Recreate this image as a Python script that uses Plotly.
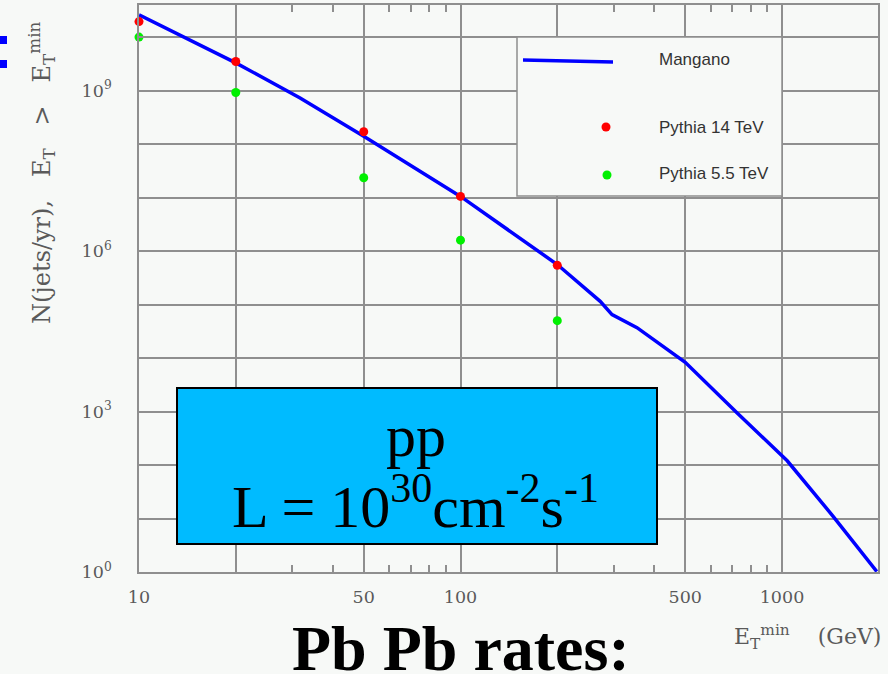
import plotly.graph_objects as go

# ---------------- data ----------------
et_pythia = [10, 20, 50, 100, 200]
pythia_14tev = [1.95e10, 3.5e9, 1.7e8, 1.05e7, 5.4e5]
pythia_5p5tev = [1.0e10, 9.2e8, 2.35e7, 1.6e6, 5.0e4]

et_mangano = [10, 20, 31.7, 50, 100, 200, 272, 296, 354, 500, 724, 1038, 1442, 1972]
mangano = [2.6e10, 3.3e9, 7.3e8, 1.4e8, 1.05e7, 5.6e5, 1.15e5, 6.5e4, 3.7e4, 8.3e3, 9.5e2, 1.2e2, 11, 1.02]

x_tickvals = [10, 20, 50, 100, 200, 500, 1000]
x_ticktext = ["10", "", "50", "100", "", "500", "1000"]
x_minor = [30, 40, 60, 70, 80, 90, 300, 400, 600, 700, 800, 900]
y_tickvals = [10 ** k for k in range(0, 11)]
y_ticktext = ["10<sup>0</sup>", "", "", "10<sup>3</sup>", "", "", "10<sup>6</sup>", "", "",
              "10<sup>9</sup>", ""]

legend_names = ["Mangano", "Pythia 14 TeV", "Pythia 5.5 TeV"]

# ---------------- layout helpers ----------------
W, H = 888, 674
L, R, T, B = 139, 10, 5, 102
PW, PH = W - L - R, H - T - B


def px(x):
    return (x - L) / PW


def py(y):
    return (H - B - y) / PH


BG = "#f7f9f7"
GRID = "#8f8f8f"
TXT = "#5a5a5a"
SERIF = "DejaVu Serif"

fig = go.Figure()
fig.add_trace(go.Scatter(x=et_mangano, y=mangano, mode="lines",
                         line=dict(color="#0000ff", width=3.5), name=legend_names[0],
                         showlegend=False))
fig.add_trace(go.Scatter(x=et_pythia, y=pythia_14tev, mode="markers",
                         marker=dict(color="#ff0000", size=9), name=legend_names[1],
                         showlegend=False, cliponaxis=False))
fig.add_trace(go.Scatter(x=et_pythia, y=pythia_5p5tev, mode="markers",
                         marker=dict(color="#00f000", size=9), name=legend_names[2],
                         showlegend=False, cliponaxis=False))

axis_common = dict(showline=True, linecolor=GRID, linewidth=1.6, mirror="ticks",
                   showgrid=True, gridcolor=GRID, gridwidth=1.6, zeroline=False,
                   ticks="inside", tickcolor=GRID, tickwidth=1.5, ticklen=5,
                   tickfont=dict(family=SERIF, size=17.5, color=TXT))

fig.update_xaxes(type="log", range=[1, 3.2986], tickmode="array",
                 tickvals=x_tickvals, ticktext=x_ticktext, ticklabelstandoff=8,
                 minor=dict(tickvals=x_minor, ticks="inside", ticklen=7, tickwidth=1.5,
                            tickcolor=GRID, showgrid=False),
                 **axis_common)
fig.update_yaxes(type="log", range=[0, 10.6], tickmode="array",
                 tickvals=y_tickvals, ticktext=y_ticktext, ticklabelstandoff=22,
                 **axis_common)

shapes = []
annotations = []

# legend box
shapes.append(dict(type="rect", xref="paper", yref="paper", x0=px(517), x1=px(782),
                   y0=py(196), y1=py(37), fillcolor=BG, line=dict(color=GRID, width=1.5),
                   layer="above"))
shapes.append(dict(type="line", xref="paper", yref="paper", x0=px(523), x1=px(613),
                   y0=py(60), y1=py(62), line=dict(color="#0000ff", width=3.5),
                   layer="above"))
for cx, cy, col in [(606, 127, "#ff0000"), (607, 175, "#00f000")]:
    shapes.append(dict(type="circle", xref="paper", yref="paper",
                       x0=px(cx - 4.5), x1=px(cx + 4.5), y0=py(cy + 4.5), y1=py(cy - 4.5),
                       fillcolor=col, line=dict(width=0), layer="above"))
for name, cy in zip(legend_names, [59, 127, 173]):
    annotations.append(dict(text=name, xref="paper", yref="paper", x=px(657), y=py(cy),
                            xanchor="left", yanchor="middle", showarrow=False,
                            font=dict(family="Liberation Sans", size=17, color="#333333")))

# pp luminosity box
shapes.append(dict(type="rect", xref="paper", yref="paper", x0=px(177), x1=px(657),
                   y0=py(544), y1=py(388), fillcolor="#00bbff",
                   line=dict(color="#000000", width=2), layer="above"))
annotations.append(dict(text="pp", xref="paper", yref="paper", x=px(416), y=py(436),
                        xanchor="center", yanchor="middle", showarrow=False,
                        font=dict(family="Liberation Serif", size=60, color="#000000")))
annotations.append(dict(text="L = 10<sup>30</sup>cm<sup>-2</sup>s<sup>-1</sup>",
                        xref="paper", yref="paper", x=px(415), y=py(502),
                        xanchor="center", yanchor="middle", showarrow=False,
                        font=dict(family="Liberation Serif", size=60, color="#000000")))

# bottom title
annotations.append(dict(text="<b>Pb Pb rates:</b>", xref="paper", yref="paper",
                        x=px(461), y=py(648), xanchor="center", yanchor="middle",
                        showarrow=False,
                        font=dict(family="Liberation Serif", size=64, color="#000000")))

# axis titles
annotations.append(dict(text="E<sub>T</sub><sup>min</sup>    (GeV)", xref="paper", yref="paper",
                        x=px(883), y=py(637), xanchor="right", yanchor="middle",
                        showarrow=False, font=dict(family=SERIF, size=22, color=TXT)))
annotations.append(dict(text="N(jets/yr),   E<sub>T</sub>   >   E<sub>T</sub><sup>min</sup>",
                        xref="paper", yref="paper", x=px(41), y=py(172),
                        xanchor="center", yanchor="middle", textangle=-90,
                        showarrow=False, font=dict(family=SERIF, size=24, color=TXT)))

# cropped blue colon at left edge
for y0, y1 in [(36, 44), (60, 68)]:
    shapes.append(dict(type="rect", xref="paper", yref="paper", x0=px(-2), x1=px(7),
                       y0=py(y1), y1=py(y0), fillcolor="#0000ff", line=dict(width=0),
                       layer="above"))

fig.update_layout(width=W, height=H, margin=dict(l=L, r=R, t=T, b=B, autoexpand=False),
                  paper_bgcolor=BG, plot_bgcolor=BG, showlegend=False,
                  shapes=shapes, annotations=annotations)

fig.write_html("out.html", config={"displayModeBar": False},
               post_script="document.body.style.margin='0';"
                           "document.body.style.overflow='hidden';"
                           "document.body.style.background='" + BG + "';")
